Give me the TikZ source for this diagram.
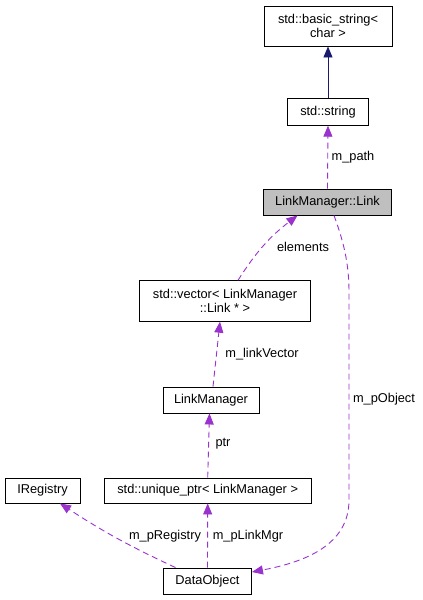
\documentclass[tikz,border=0pt]{standalone}
\usepackage{fontspec}
\setmainfont{Liberation Sans}
\usetikzlibrary{arrows.meta}
\definecolor{edgepurple}{HTML}{9A32CD}
\definecolor{inhblue}{HTML}{191970}
\definecolor{hlgray}{HTML}{BFBFBF}
\begin{document}
\begin{tikzpicture}[x=1pt,y=-1pt,
  font=\fontsize{12.8}{14}\selectfont,
  cls/.style={draw=black,line width=0.9pt,inner sep=0pt,align=center,fill=white},
  lbl/.style={inner sep=0pt},
  usage/.style={draw=edgepurple,line width=0.9pt,dash pattern=on 6pt off 4pt,
    -{Triangle[length=11pt,width=9pt,fill=edgepurple]}},
  inherit/.style={draw=inhblue,line width=0.9pt,
    -{Triangle[length=11pt,width=9pt,fill=inhblue]}}]
\useasboundingbox (0,0) rectangle (423,600);
% classes
\node[cls,minimum width=128pt,minimum height=40pt] (bs) at (328,26) {std::basic\_string<\\char >};
\node[cls,minimum width=81pt,minimum height=26.5pt] (str) at (328,112) {std::string};
\node[cls,fill=hlgray,minimum width=128pt,minimum height=26pt] (link) at (327.5,202) {LinkManager::Link};
\node[cls,minimum width=171pt,minimum height=40.5pt] (vec) at (225,301) {std::vector< LinkManager\\::Link * >};
\node[cls,minimum width=96pt,minimum height=26pt] (lm) at (211,400) {LinkManager};
\node[cls,minimum width=75pt,minimum height=25pt] (ireg) at (42.5,490.5) {IRegistry};
\node[cls,minimum width=207pt,minimum height=25pt] (uptr) at (207.7,490.5) {std::unique\_ptr< LinkManager >};
\node[cls,minimum width=88pt,minimum height=26pt] (dobj) at (207.5,581) {DataObject};
% edges
\draw[inherit] (str.north) -- (bs.south);
\draw[usage] (link.north) -- (str.south);
\draw[usage] ([xshift=13pt]vec.north) to[bend left=10] ([xshift=-30pt]link.south);
\draw[usage] ([xshift=2pt]lm.north) -- ([xshift=-5pt]vec.south);
\draw[usage] (uptr.north) -- ([xshift=-1.5pt]lm.south);
\draw[usage] (dobj.north) -- (uptr.south);
\draw[usage] ([xshift=-32pt]dobj.north) to[bend left=4] ([xshift=17.5pt]ireg.south);
\draw[usage] ([xshift=6.5pt]link.south) .. controls (343,240) and (349,262) .. (349,292)
  -- (349,500) .. controls (349,545) and (305,562) .. ([yshift=9pt]dobj.east);
% labels
\node[lbl] (lpath) at (353,157) {m\_path};
\node[lbl] (lelem) at (303,247) {elements};
\node[lbl] (llv) at (262,354) {m\_linkVector};
\node[lbl] (lptr) at (223,444) {ptr};
\node[lbl] (lreg) at (165,536) {m\_pRegistry};
\node[lbl] (llm) at (248,536) {m\_pLinkMgr};
\node[lbl] (lobj) at (384,399) {m\_pObject};
\end{tikzpicture}
\end{document}
